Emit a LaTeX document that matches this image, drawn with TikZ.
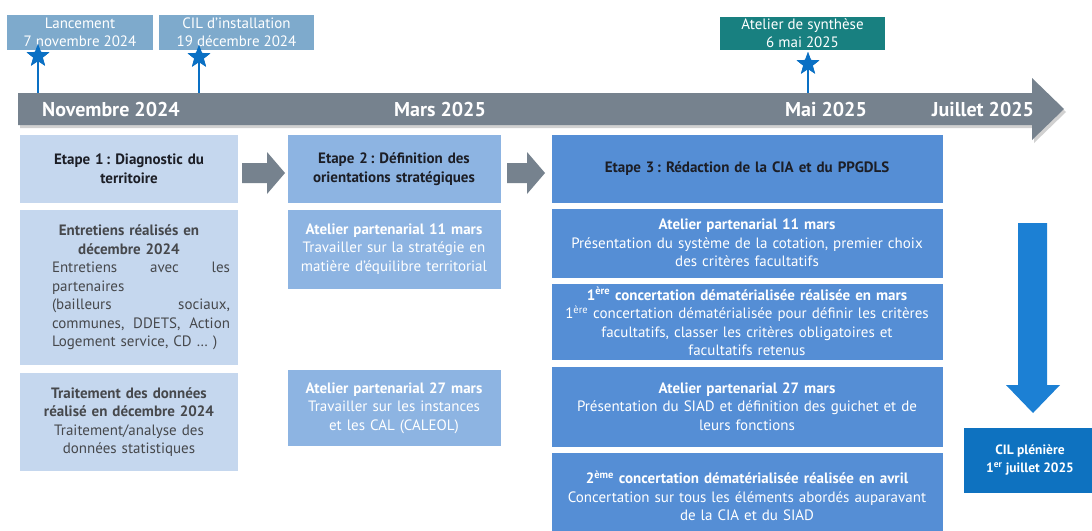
\documentclass[tikz,border=0pt]{standalone}
\usepackage{fontspec}
\setmainfont{PT Sans}
\usetikzlibrary{shapes.geometric}
\frenchspacing
\definecolor{topblue}{RGB}{126,170,204}
\definecolor{tealc}{RGB}{24,128,128}
\definecolor{starblue}{RGB}{10,112,196}
\definecolor{tlgray}{RGB}{118,130,142}
\definecolor{c1blue}{RGB}{197,215,238}
\definecolor{c2blue}{RGB}{141,180,226}
\definecolor{c3blue}{RGB}{85,142,213}
\definecolor{txtgray}{RGB}{70,72,76}
\definecolor{txtdark}{RGB}{28,30,38}
\definecolor{arrblue}{RGB}{28,128,212}
\definecolor{cilblue}{RGB}{14,114,192}
\begin{document}
\begin{tikzpicture}[x=1pt,y=-1pt,
  topbox/.style={inner sep=0pt, align=center, text=white, font=\fontsize{15}{18}\selectfont},
  tlabel/.style={inner sep=0pt, text=white, font=\fontsize{20}{22}\selectfont\bfseries},
  starnode/.style={star, star points=5, star point ratio=2.4, fill=starblue, minimum size=24pt, inner sep=0pt},
  stem/.style={draw=starblue, line width=2pt},
  colbox/.style={inner sep=0pt, align=center, font=\fontsize{15}{18.5}\selectfont},
  c1/.style={colbox, fill=c1blue, text=txtgray},
  c2/.style={colbox, fill=c2blue, text=white},
  c3/.style={colbox, fill=c3blue, text=white},
  blockarrow/.style={fill=tlgray}
]
\clip (0,0) rectangle (1092,530);
\fill[white] (0,0) rectangle (1092,530);

% timeline
\fill[black!18] (20,96) -- (1034,96) -- (1034,81) -- (1066,112) -- (1034,143) -- (1034,128) -- (20,128) -- cycle;
\fill[tlgray] (18,93) -- (1032,93) -- (1032,78) -- (1064,109) -- (1032,140) -- (1032,125) -- (18,125) -- cycle;
\node[tlabel] (nov) at (111,109) {Novembre 2024};
\node[tlabel] (mar) at (440,109) {Mars 2025};
\node[tlabel] (mai) at (826,109) {Mai 2025};
\node[tlabel] (jui) at (983,109) {Juillet 2025};

% top milestones
\node[topbox, fill=topblue, minimum width=146pt, minimum height=35pt] (lanc) at (80,32.5) {Lancement\\7 novembre 2024};
\node[topbox, fill=topblue, minimum width=155pt, minimum height=35pt] (cil) at (236.5,32.5) {CIL d’installation\\19 décembre 2024};
\node[topbox, fill=tealc, minimum width=165pt, minimum height=33pt] (synth) at (802.5,33.5) {Atelier de synthèse\\6 mai 2025};

\coordinate (t1) at (38,93);
\coordinate (t2) at (199,93);
\coordinate (t3) at (808,93);
\node[starnode] (s1) at (38,56) {};
\node[starnode] (s2) at (199,57) {};
\node[starnode] (s3) at (808,64) {};
\draw[stem] (s1.center) -- (t1);
\draw[stem] (s2.center) -- (t2);
\draw[stem] (s3.center) -- (t3);
\node[starnode] at (s1.center) {};
\node[starnode] at (s2.center) {};
\node[starnode] at (s3.center) {};

% column 1
\node[c1, minimum width=218pt, minimum height=68pt, text width=218pt] (e1) at (129,169)
  {\bfseries\color{txtdark}Etape 1\,: Diagnostic du\\territoire};
\node[c1, minimum width=218pt, minimum height=155pt, text width=218pt] (ent) at (129,287.5)
  {{\bfseries Entretiens réalisés en\\décembre 2024}\\
   \makebox[218pt][l]{\hskip32pt\hbox to 178pt{Entretiens\hfill avec\hfill les}}\\
   \makebox[218pt][l]{\hskip32pt\hbox to 178pt{partenaires\hfill}}\\
   \makebox[218pt][l]{\hskip32pt\hbox to 178pt{(bailleurs\hfill sociaux,}}\\
   \makebox[218pt][l]{\hskip32pt\hbox to 178pt{communes,\hfill DDETS,\hfill Action}}\\
   \makebox[218pt][l]{\hskip32pt\hbox to 178pt{Logement service, CD … )\hfill}}};
\node[c1, minimum width=218pt, minimum height=98pt, text width=218pt] (trt) at (129,422)
  {{\bfseries Traitement des données\\réalisé en décembre 2024}\\Traitement/analyse des\\données statistiques};

% column 2
\node[c2, text=txtdark, minimum width=213pt, minimum height=68pt, text width=213pt] (e2) at (394,169)
  {\bfseries Etape 2\,: Définition des\\orientations stratégiques};
\node[c2, minimum width=213pt, minimum height=79pt, text width=213pt] (a2a) at (394,249)
  {{\bfseries Atelier partenarial 11 mars}\\Travailler sur la stratégie en\\matière d’équilibre territorial};
\node[c2, minimum width=213pt, minimum height=76pt, text width=213pt] (a2b) at (394,408)
  {{\bfseries Atelier partenarial 27 mars}\\Travailler sur les instances\\et les CAL (CALEOL)};

% column 3
\node[c3, text=txtdark, minimum width=391pt, minimum height=68pt, text width=391pt] (e3) at (747,169)
  {\bfseries Etape 3\,: Rédaction de la CIA et du PPGDLS};
\node[c3, minimum width=391pt, minimum height=69pt, text width=391pt] (a3a) at (747,243)
  {{\bfseries Atelier partenarial 11 mars}\\Présentation du système de la cotation, premier choix\\des critères facultatifs};
\node[c3, minimum width=391pt, minimum height=76pt, text width=391pt] (c3a) at (747,321.5)
  {{\bfseries 1\textsuperscript{ère} concertation dématérialisée réalisée en mars}\\1\textsuperscript{ère} concertation dématérialisée pour définir les critères\\facultatifs, classer les critères obligatoires et\\facultatifs retenus};
\node[c3, minimum width=391pt, minimum height=80pt, text width=391pt] (a3b) at (747,406.5)
  {{\bfseries Atelier partenarial 27 mars}\\Présentation du SIAD et définition des guichet et de\\leurs fonctions};
\node[c3, minimum width=391pt, minimum height=86pt, text width=391pt] (c3b) at (747,496)
  {{\bfseries 2\textsuperscript{ème} concertation dématérialisée réalisée en avril}\\Concertation sur tous les éléments abordés auparavant\\de la CIA et du SIAD};

% arrows between steps
\fill[blockarrow] (242,163) -- (267,163) -- (267,152) -- (285,173) -- (267,194) -- (267,183) -- (242,183) -- cycle;
\fill[blockarrow] (507,163) -- (527,163) -- (527,152) -- (545,173) -- (527,194) -- (527,183) -- (507,183) -- cycle;

% down arrow and final node
\node[inner sep=0pt, align=center, text=white, fill=cilblue, font=\fontsize{13.5}{18}\selectfont\bfseries,
  minimum width=132pt, minimum height=65pt] (pl) at (1030,460.5) {CIL plénière\\1\textsuperscript{er} juillet 2025};
\fill[arrblue] (1018,223) -- (1047,223) -- (1047,385) -- (1060,385) -- (1033,413) -- (1006,385) -- (1018,385) -- cycle;
\end{tikzpicture}
\end{document}
